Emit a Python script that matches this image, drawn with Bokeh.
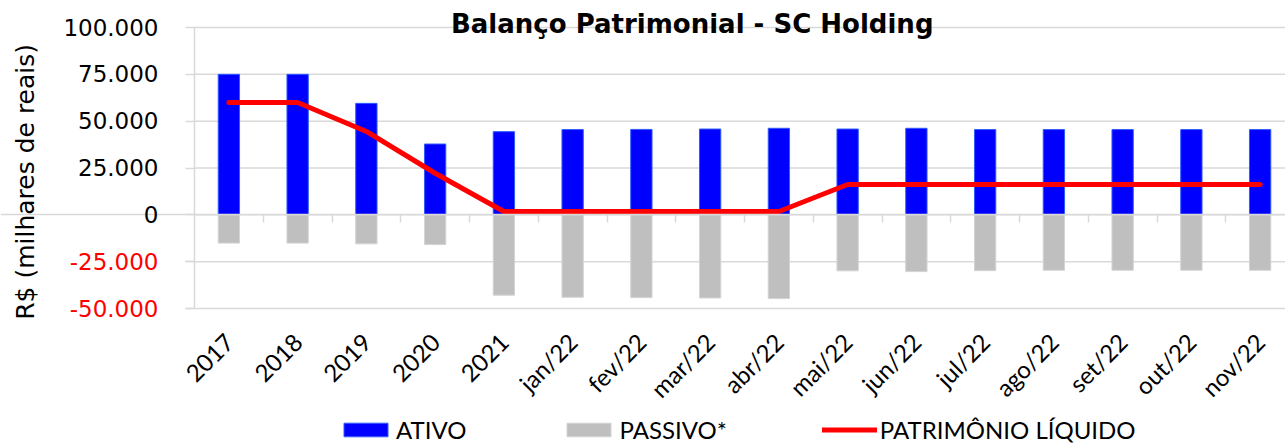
from bokeh.plotting import figure
from bokeh.models import (Range1d, FixedTicker, Label, Legend, LegendItem, LinearAxis)
from bokeh.embed import file_html
from bokeh.resources import INLINE
import math

categories = ["2017", "2018", "2019", "2020", "2021", "jan/22", "fev/22", "mar/22",
              "abr/22", "mai/22", "jun/22", "jul/22", "ago/22", "set/22", "out/22", "nov/22"]
ativo = [75000, 75000, 59500, 37800, 44400, 45500, 45600, 45800,
         46200, 45800, 46200, 45500, 45500, 45500, 45500, 45500]
passivo = [-15100, -15100, -15500, -15900, -42900, -44000, -44200, -44400,
           -44700, -29900, -30300, -29800, -29600, -29600, -29600, -29600]
patrimonio = [60000, 60000, 44500, 22200, 1800, 1800, 1800, 1800,
              1800, 16200, 16200, 16200, 16200, 16200, 16200, 16200]
y_ticks = [-50000, -25000, 0, 25000, 50000, 75000, 100000]
y_tick_labels = ["-50.000", "-25.000", "0", "25.000", "50.000", "75.000", "100.000"]
title_text = "Balanço Patrimonial - SC Holding"
y_title = "R$ (milhares de reais)"

n = len(categories)
xc = [i + 0.5 for i in range(n)]
y_min, y_max = y_ticks[0], y_ticks[-1]

# layout (pixels): the frame covers the whole canvas; value area starts at x=194,
# spans y=27..308, and each category is 68.75px wide
W, H = 1285, 444
LEFT, TOP, AX_H, CAT_PX = 194, 27, 281, 68.75
per_px = (y_max - y_min) / AX_H
y_range = Range1d(y_min - (H - TOP - AX_H) * per_px, y_max + TOP * per_px)
x_range = Range1d(-LEFT / CAT_PX, (W - LEFT) / CAT_PX)

p = figure(width=W, height=H, output_backend="svg", toolbar_location=None,
           x_range=x_range, y_range=y_range, min_border=0,
           outline_line_color=None)
p.background_fill_color = "white"
p.border_fill_color = "white"

GRID = "#d9d9d9"
p.xgrid.visible = False
p.ygrid.visible = False
# horizontal gridlines across the category area
p.segment(x0=[0] * len(y_ticks), x1=[n] * len(y_ticks), y0=y_ticks, y1=y_ticks,
          line_color=GRID, line_width=1.5)

YFONT = "DejaVu Sans"
# primary value axis (black labels)
yax = p.yaxis[0]
yax.fixed_location = 0
yax.ticker = FixedTicker(ticks=y_ticks)
yax.bounds = (y_min, y_max)
yax.major_label_overrides = {v: (s if v >= 0 else " ") for v, s in zip(y_ticks, y_tick_labels)}
yax.axis_line_color = GRID
yax.axis_line_width = 1.5
yax.major_tick_line_color = GRID
yax.major_tick_line_width = 1.5
yax.major_tick_out = 9
yax.major_tick_in = 0
yax.minor_tick_line_color = None
yax.major_label_standoff = 27
yax.major_label_text_font = YFONT
yax.major_label_text_font_size = "23px"
yax.major_label_text_color = "black"

# secondary value axis for the red negative labels
yax2 = LinearAxis(fixed_location=0,
                  ticker=FixedTicker(ticks=[v for v in y_ticks if v < 0]),
                  major_label_overrides={v: s for v, s in zip(y_ticks, y_tick_labels) if v < 0},
                  axis_line_color=None, major_tick_line_color=GRID,
                  major_tick_line_width=1.5, major_tick_out=9, major_tick_in=0,
                  minor_tick_line_color=None, major_label_standoff=27,
                  major_label_text_font=YFONT, major_label_text_font_size="23px",
                  major_label_text_color="red")
p.add_layout(yax2, "left")

# value axis title
p.add_layout(Label(x=0, y=(y_min + y_max) / 2 - 7400, x_offset=-169, text=y_title,
                   angle=math.pi / 2, text_align="center", text_baseline="middle",
                   text_font=YFONT, text_font_size="25px", text_color="black"))

# category axis (labels) drawn along the bottom of the value area
xax = p.xaxis[0]
xax.fixed_location = y_min
xax.ticker = FixedTicker(ticks=xc)
xax.major_label_overrides = {x: c for x, c in zip(xc, categories)}
xax.axis_line_color = None
xax.major_tick_line_color = None
xax.minor_tick_line_color = None
xax.major_label_orientation = math.pi / 4
xax.major_label_standoff = 23
xax.major_label_text_font = "Lato"
xax.major_label_text_font_size = "24px"
xax.major_label_text_color = "black"

# zero line with tick marks between categories
zax = LinearAxis(fixed_location=0, ticker=FixedTicker(ticks=list(range(1, n))),
                 axis_line_color=GRID, axis_line_width=1.5,
                 major_tick_line_color=GRID, major_tick_line_width=1.5,
                 major_tick_out=8, major_tick_in=0, minor_tick_line_color=None,
                 major_label_text_font_size="0px", major_label_text_alpha=0)
p.add_layout(zax, "below")

r_a = p.vbar(x=xc, top=ativo, bottom=0, width=0.31, fill_color="#0000ff",
             line_color="#2f5bff", line_width=1)
r_p = p.vbar(x=xc, top=0, bottom=passivo, width=0.31, fill_color="#bfbfbf",
             line_color="#d4d4d4", line_width=1)
r_l = p.line(x=xc, y=patrimonio, line_color="#ff0000", line_width=5,
             line_cap="round", line_join="round")

p.add_layout(Label(x=7.24, y=y_max, y_offset=4, text=title_text,
                   text_align="center", text_baseline="alphabetic",
                   text_font="DejaVu Sans", text_font_style="bold",
                   text_font_size="26px", text_color="black"))

legend = Legend(items=[LegendItem(label="ATIVO", renderers=[r_a]),
                       LegendItem(label="PASSIVO*", renderers=[r_p]),
                       LegendItem(label="PATRIMÔNIO LÍQUIDO", renderers=[r_l])],
                orientation="horizontal", location=(338, 0),
                glyph_width=55, glyph_height=17, label_standoff=3, spacing=95,
                padding=0, margin=0, background_fill_alpha=0,
                border_line_color=None, label_text_font="Lato",
                label_text_font_size="24px", label_text_color="black",
                label_height=20)
p.add_layout(legend, "center")

open("out.html", "w").write(file_html(p, INLINE))
